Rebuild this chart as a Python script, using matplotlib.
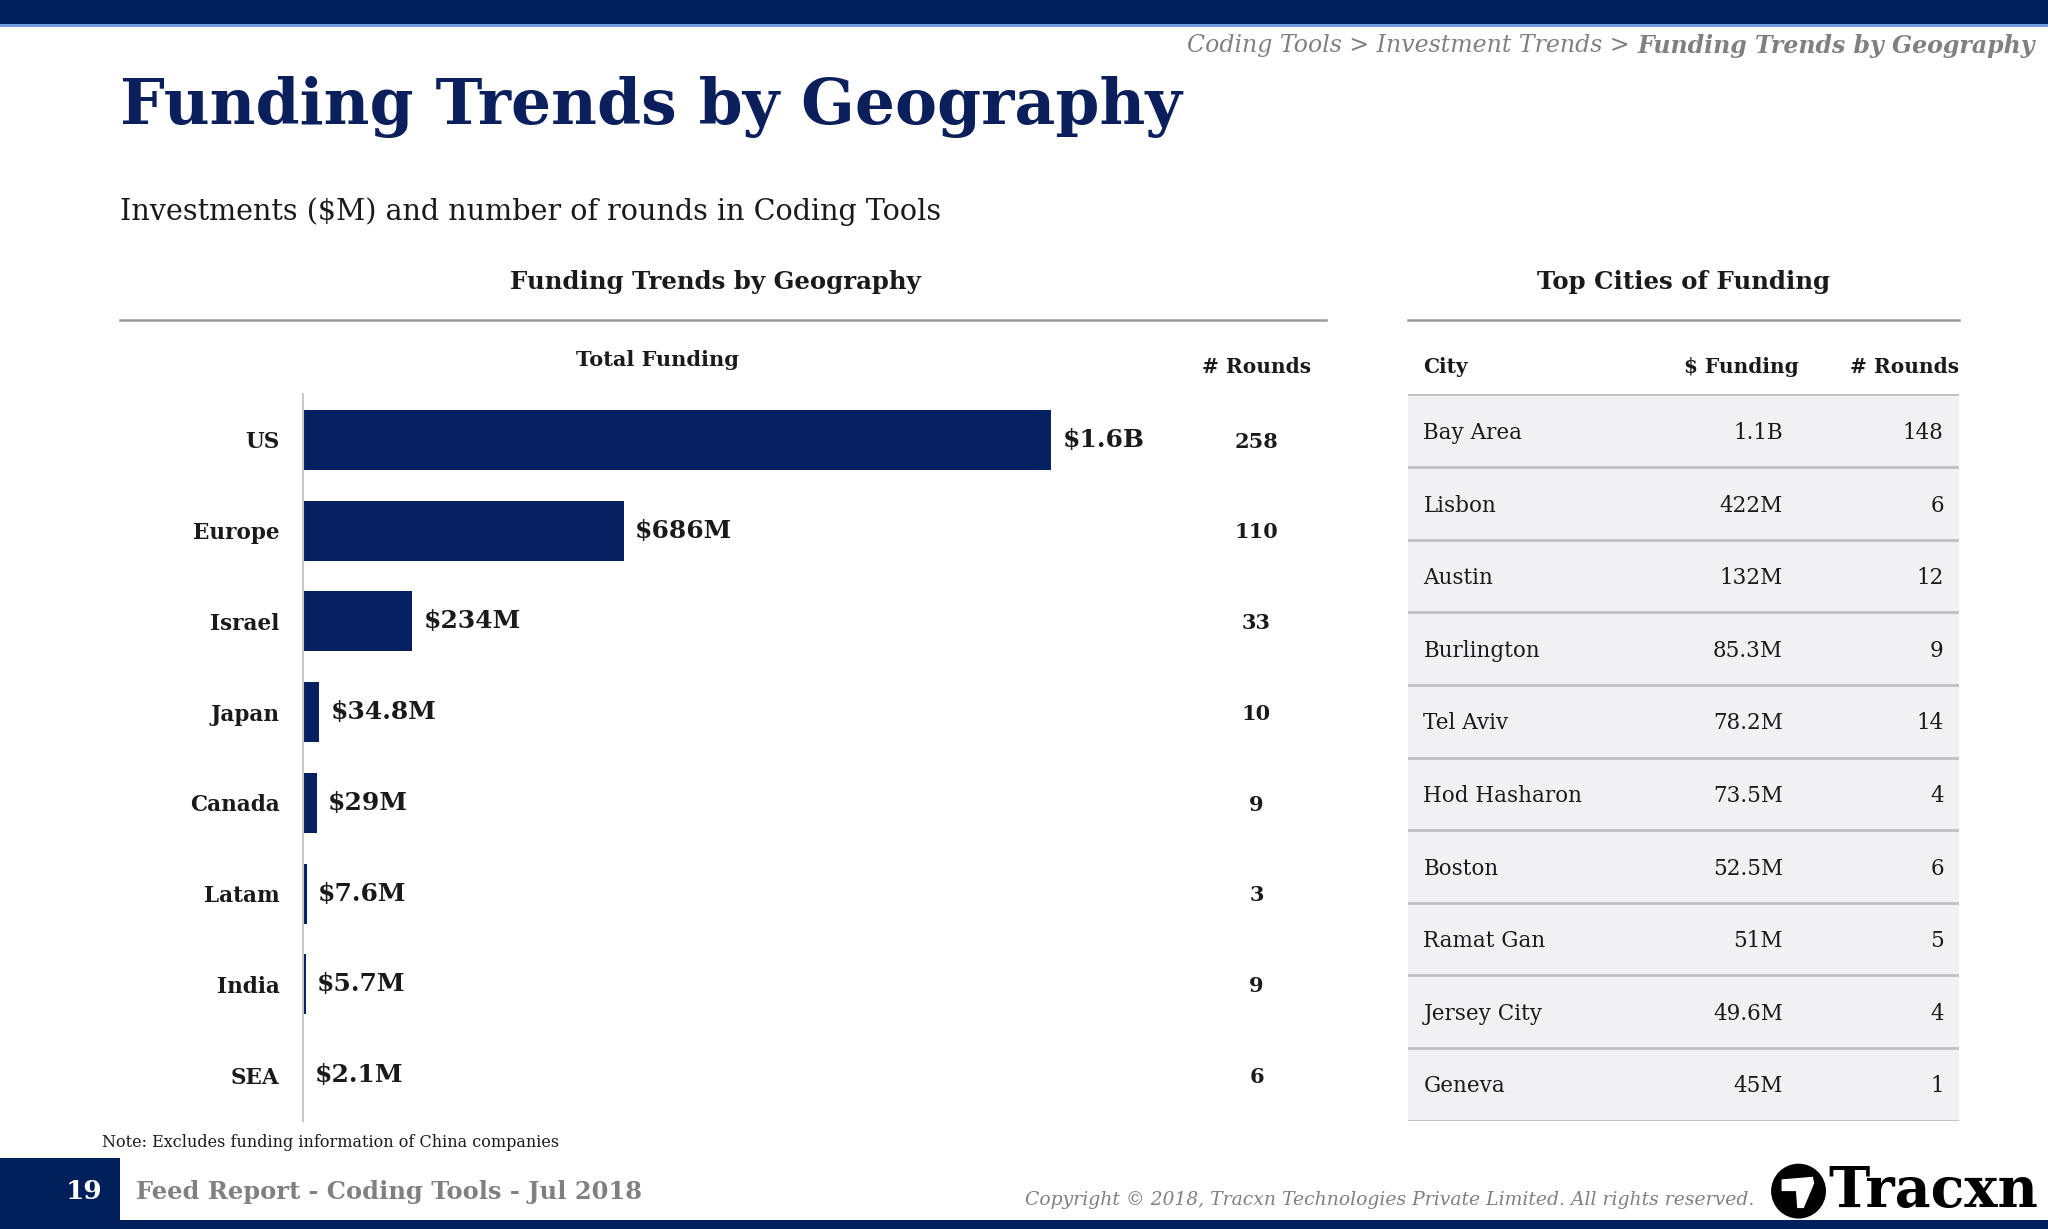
import matplotlib
matplotlib.use("Agg")
import matplotlib.pyplot as plt
from matplotlib.patches import Rectangle, Circle, Polygon
from matplotlib.transforms import blended_transform_factory

# data
regions = ["US", "Europe", "Israel", "Japan", "Canada", "Latam", "India", "SEA"]
funding_m = [1600, 686, 234, 34.8, 29, 7.6, 5.7, 2.1]
funding_labels = ["$1.6B", "$686M", "$234M", "$34.8M", "$29M", "$7.6M", "$5.7M", "$2.1M"]
region_rounds = [258, 110, 33, 10, 9, 3, 9, 6]

cities = ["Bay Area", "Lisbon", "Austin", "Burlington", "Tel Aviv", "Hod Hasharon",
          "Boston", "Ramat Gan", "Jersey City", "Geneva"]
city_funding = ["1.1B", "422M", "132M", "85.3M", "78.2M", "73.5M", "52.5M", "51M", "49.6M", "45M"]
city_rounds = [148, 6, 12, 9, 14, 4, 6, 5, 4, 1]

NAVY = "#062062"
GREY = "#808080"
INK = "#1a1a1a"
plt.rcParams["font.family"] = ["DejaVu Serif"]

W, H = 1568, 941  # layout units (reference screen pixels)


def fx(x):
    return x / W


def fy(y):
    return 1 - y / H


fig = plt.figure(figsize=(20.48, 12.29), dpi=100)

# background layer in layout units
bg = fig.add_axes([0, 0, 1, 1])
bg.set_xlim(0, W)
bg.set_ylim(H, 0)
bg.axis("off")

bg.add_patch(Rectangle((0, 0), W, 18, color="#00205B", lw=0))
bg.add_patch(Rectangle((0, 18), W, 3, color="#6E9BDD", lw=0))
bg.add_patch(Rectangle((0, 934), W, 7, color="#00205B", lw=0))
bg.add_patch(Rectangle((0, 887), 92, 54, color="#00205B", lw=0))

crumb = bg.text(1558, 35, "Funding Trends by Geography", ha="right", va="center",
                fontsize=17, style="italic", weight="bold", color=GREY)
bg.annotate("Coding Tools > Investment Trends > ", xy=(0, 0.5), xycoords=crumb,
            ha="right", va="center", fontsize=17, style="italic", color=GREY)

bg.text(92, 82, "Funding Trends by Geography", ha="left", va="center",
        fontsize=45.4, weight="bold", color="#0B1F5C")
bg.text(92, 162, "Investments ($M) and number of rounds in Coding Tools",
        ha="left", va="center", fontsize=20.6, color=INK)

bg.text(548, 216, "Funding Trends by Geography", ha="center", va="center",
        fontsize=17.6, weight="bold", color=INK)
bg.text(1289, 216, "Top Cities of Funding", ha="center", va="center",
        fontsize=17.6, weight="bold", color=INK)
bg.plot([92, 1015], [245, 245], color="#9a9a9a", lw=1.8)
bg.plot([1078, 1500], [245, 245], color="#9a9a9a", lw=1.8)

bg.text(503, 276, "Total Funding", ha="center", va="center",
        fontsize=15, weight="bold", color=INK)
bg.text(962, 281, "# Rounds", ha="center", va="center",
        fontsize=14.5, weight="bold", color=INK)

bg.text(78, 875, "Note: Excludes funding information of China companies",
        ha="left", va="center", fontsize=11.5, color=INK)
bg.text(64, 912, "19", ha="center", va="center", fontsize=19, weight="bold", color="white")
bg.text(104, 913, "Feed Report - Coding Tools - Jul 2018", ha="left", va="center",
        fontsize=17.4, weight="bold", color=GREY)
bg.text(1343, 919, "Copyright \u00a9 2018, Tracxn Technologies Private Limited. All rights reserved.",
        ha="right", va="center", fontsize=13.5, style="italic", color=GREY)

# logo
bg.add_patch(Circle((1377, 912), 21, color="black", lw=0))
bg.add_patch(Polygon([(1364, 903), (1388, 901), (1389, 906), (1381, 925),
                      (1376, 925), (1375, 912), (1364, 912)], closed=True,
                     color="white", lw=0))
bg.text(1400, 912, "Tracxn", ha="left", va="center", fontsize=40,
        weight="bold", color="black")

# bar chart
ax = fig.add_axes([fx(232), fy(858), fx(1015) - fx(232), fy(302) - fy(858)])
xmax = max(funding_m) * (1015 - 232) / (805 - 232)
ypos = list(range(len(regions)))
ax.barh(ypos, funding_m, height=0.66, color=NAVY)
ax.set_xlim(0, xmax)
ax.set_ylim(len(regions) - 0.5, -0.5)
ax.set_xticks([])
ax.set_yticks(ypos)
ax.set_yticklabels(regions, fontsize=15.5, weight="bold", color=INK)
ax.tick_params(axis="y", length=0, pad=17)
for s in ["top", "right", "bottom"]:
    ax.spines[s].set_visible(False)
ax.spines["left"].set_color("#c8c8c8")
ax.spines["left"].set_linewidth(1.5)
ax.patch.set_alpha(0)

for y, v, lab in zip(ypos, funding_m, funding_labels):
    ax.annotate(lab, xy=(v, y), xytext=(8, 0), textcoords="offset points",
                ha="left", va="center", fontsize=18, weight="bold", color=INK)

rounds_tr = blended_transform_factory(fig.transFigure, ax.transData)
for y, r in zip(ypos, region_rounds):
    ax.text(fx(962), y + 0.02, str(r), transform=rounds_tr, ha="center", va="center",
            fontsize=15, weight="bold", color=INK)

# city table
tb = fig.add_axes([fx(1078), fy(858), fx(1500) - fx(1078), fy(302) - fy(858)])
tb.set_xlim(0, 1)
tb.set_ylim(len(cities), 0)
tb.axis("off")
tb.axhline(0, color="#c0c0c0", lw=2)
for i, (c, f, r) in enumerate(zip(cities, city_funding, city_rounds)):
    tb.axhspan(i, i + 1, color="#F1F0F3", lw=0)
    tb.axhline(i + 1, color="#c0c0c0", lw=2)
    yc = i + 0.53
    tb.text(0.028, yc, c, ha="left", va="center", fontsize=15.5, color=INK)
    tb.text(0.68, yc, f, ha="right", va="center", fontsize=15.5, color=INK)
    tb.text(0.972, yc, str(r), ha="right", va="center", fontsize=15.5, color=INK)

tb.text(0.028, -0.38, "City", ha="left", va="center", fontsize=14.5, weight="bold", color=INK)
tb.text(0.709, -0.38, "$ Funding", ha="right", va="center", fontsize=14.5, weight="bold", color=INK)
tb.text(1.0, -0.38, "# Rounds", ha="right", va="center", fontsize=14.5, weight="bold", color=INK)

fig.savefig("out.png", dpi=100)
